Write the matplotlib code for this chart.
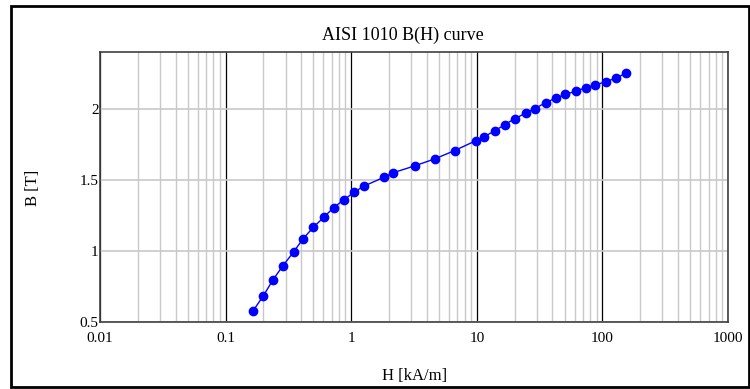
import matplotlib.pyplot as plt
from matplotlib.patches import Rectangle
from matplotlib.ticker import LogLocator, NullFormatter

# Datos de la curva B(H)
H_kAm = [0.165, 0.200, 0.238, 0.286, 0.348, 0.413, 0.500, 0.608, 0.725, 0.877,
         1.055, 1.26, 1.83, 2.17, 3.21, 4.63, 6.65, 9.78, 11.5, 14.0,
         16.7, 20.0, 24.5, 29.0, 35.4, 42.8, 50.8, 61.4, 74.2, 88.1,
         106, 129, 153]
B_T = [0.577, 0.685, 0.796, 0.896, 0.993, 1.085, 1.167, 1.239, 1.305, 1.361,
       1.413, 1.456, 1.519, 1.551, 1.599, 1.648, 1.706, 1.775, 1.805, 1.847,
       1.889, 1.930, 1.970, 2.002, 2.044, 2.077, 2.101, 2.125, 2.150, 2.169,
       2.190, 2.218, 2.249]

x_ticks = [0.01, 0.1, 1, 10, 100, 1000]
x_tick_labels = ['0.01', '0.1', '1', '10', '100', '1000']
y_ticks = [0.5, 1, 1.5, 2]
y_tick_labels = ['0.5', '1', '1.5', '2']

plt.rcParams['font.family'] = ['Liberation Serif', 'DejaVu Serif']

fig = plt.figure(figsize=(7.5, 3.89), dpi=100)
ax = fig.add_axes([100 / 750, 1 - 322 / 389, 628 / 750, 270 / 389])

ax.plot(H_kAm, B_T, color='#0000ff', lw=1, marker='o', markersize=6,
        zorder=3)

ax.set_xscale('log')
ax.set_xlim(0.01, 1000)
ax.set_ylim(0.5, 2.4)

ax.set_xticks(x_ticks)
ax.set_xticklabels(x_tick_labels)
ax.xaxis.set_minor_locator(LogLocator(base=10, subs=range(2, 10)))
ax.xaxis.set_minor_formatter(NullFormatter())
ax.set_yticks(y_ticks)
ax.set_yticklabels(y_tick_labels)

ax.grid(True, which='major', axis='x', color='black', lw=0.9, zorder=1)
ax.grid(True, which='minor', axis='x', color='#c8c8c8', lw=1.0, zorder=0)
ax.grid(True, which='major', axis='y', color='#c8c8c8', lw=1.2, zorder=0)

ax.tick_params(which='both', length=0, labelsize=11)
ax.tick_params(axis='x', pad=7)
ax.tick_params(axis='y', pad=1)
for s in ax.spines.values():
    s.set_color('#404040')
    s.set_linewidth(1.2)

fig.text(403 / 750, 1 - 35 / 389, 'AISI 1010 B(H) curve', ha='center',
         va='center', fontsize=13)
fig.text(415 / 750, 1 - 376 / 389, 'H [kA/m]', ha='center', va='center',
         fontsize=12)
fig.text(33 / 750, 1 - 188 / 389, 'B [T]', ha='center', va='center',
         rotation=90, fontsize=12)

# Marco exterior
fig.patches.append(Rectangle((11 / 750, 2 / 389), 738 / 750, 381 / 389,
                             transform=fig.transFigure, fill=False,
                             edgecolor='black', lw=2))

fig.savefig('out.png', dpi=100)
